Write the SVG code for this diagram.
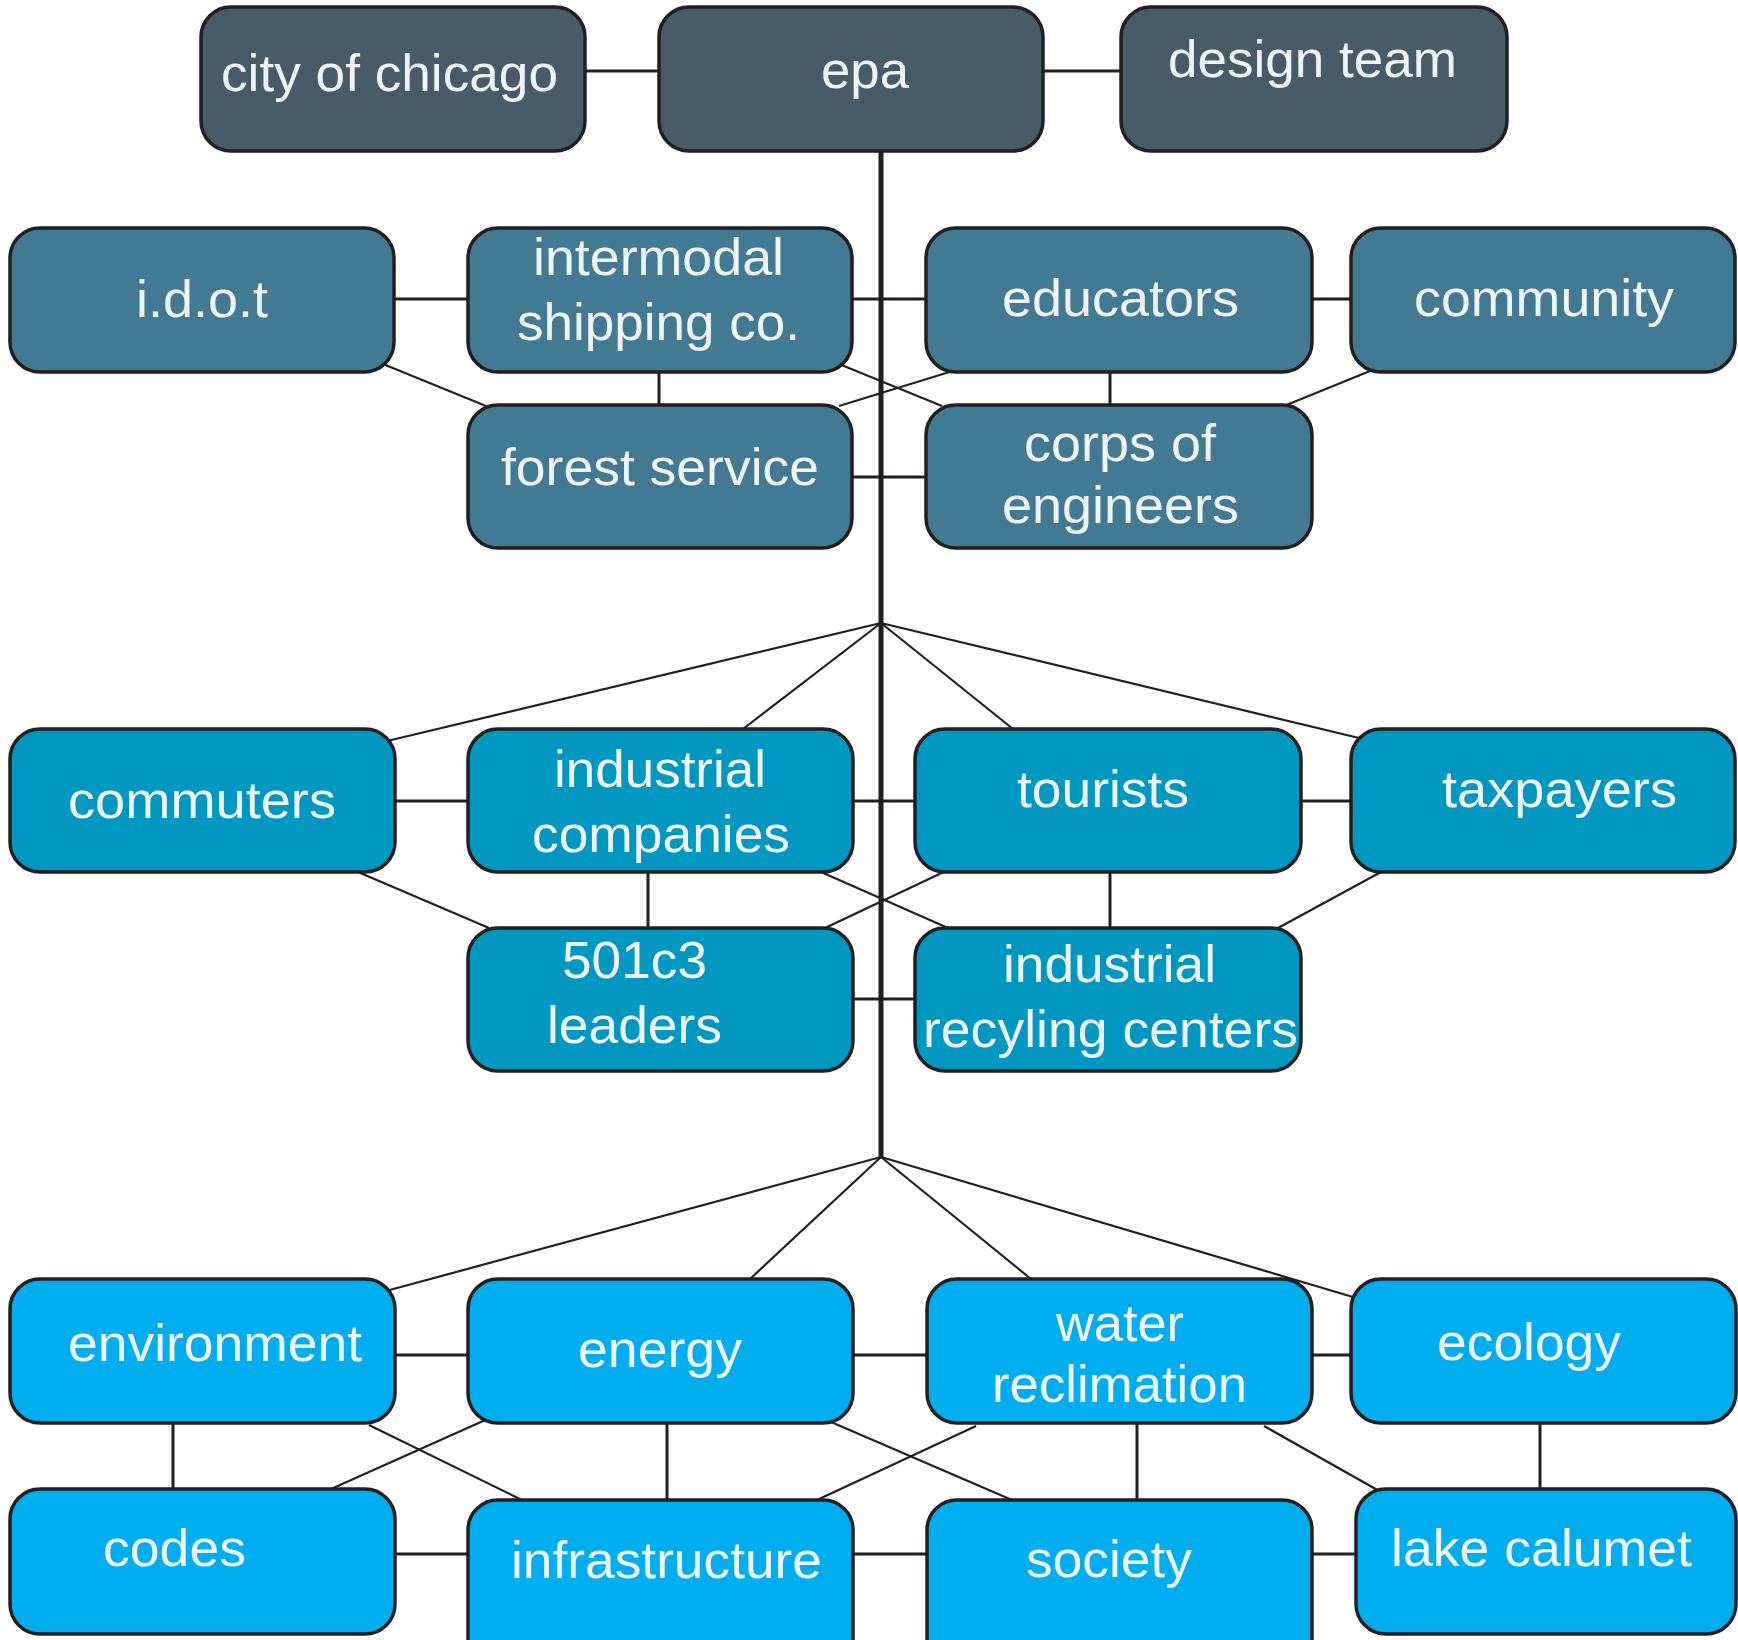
<svg xmlns="http://www.w3.org/2000/svg" width="1738" height="1640" viewBox="0 0 1738 1640">
<style>
.box{stroke:#231f20;stroke-width:3.5}
.c1{fill:#475b68}
.c2{fill:#417a92}
.c3{fill:#0098c1}
.c4{fill:#00aeef}
.lbl{font-family:"Liberation Sans",Arial,sans-serif;font-size:52px;fill:#eef4f7}
.ln{stroke:#231f20;stroke-width:3;fill:none}
.dg{stroke:#231f20;stroke-width:2.2;fill:none}
.sp{stroke:#231f20;stroke-width:5;fill:none}
</style>
<rect width="1738" height="1640" fill="#ffffff"/>
<g id="connectors">
<line class="sp" x1="881" y1="151" x2="881" y2="1157"/>
<line class="ln" x1="585" y1="71" x2="659" y2="71"/>
<line class="ln" x1="1043" y1="71" x2="1121" y2="71"/>
<line class="ln" x1="394" y1="299" x2="468" y2="299"/>
<line class="ln" x1="852" y1="299" x2="926" y2="299"/>
<line class="ln" x1="1312" y1="299" x2="1351" y2="299"/>
<line class="ln" x1="659" y1="372" x2="659" y2="405"/>
<line class="ln" x1="1110" y1="372" x2="1110" y2="405"/>
<line class="ln" x1="852" y1="477" x2="926" y2="477"/>
<line class="dg" x1="383" y1="364" x2="486" y2="406"/>
<line class="dg" x1="839" y1="364" x2="942" y2="406"/>
<line class="dg" x1="956" y1="370" x2="839" y2="406"/>
<line class="dg" x1="1370" y1="371" x2="1284" y2="406"/>
<line class="ln" x1="395" y1="801" x2="468" y2="801"/>
<line class="ln" x1="853" y1="801" x2="915" y2="801"/>
<line class="ln" x1="1301" y1="801" x2="1351" y2="801"/>
<line class="ln" x1="648" y1="872" x2="648" y2="928"/>
<line class="ln" x1="1110" y1="872" x2="1110" y2="928"/>
<line class="ln" x1="853" y1="999" x2="915" y2="999"/>
<line class="dg" x1="881" y1="623" x2="383" y2="742"/>
<line class="dg" x1="881" y1="623" x2="743" y2="729"/>
<line class="dg" x1="881" y1="623" x2="1013" y2="729"/>
<line class="dg" x1="881" y1="623" x2="1359" y2="738"/>
<line class="dg" x1="358" y1="872" x2="489" y2="928"/>
<line class="dg" x1="821" y1="872" x2="948" y2="928"/>
<line class="dg" x1="948" y1="870" x2="825" y2="928"/>
<line class="dg" x1="1381" y1="872" x2="1278" y2="928"/>
<line class="ln" x1="395" y1="1355" x2="468" y2="1355"/>
<line class="ln" x1="853" y1="1355" x2="927" y2="1355"/>
<line class="ln" x1="1312" y1="1355" x2="1351" y2="1355"/>
<line class="ln" x1="173" y1="1423" x2="173" y2="1489"/>
<line class="ln" x1="667" y1="1423" x2="667" y2="1500"/>
<line class="ln" x1="1137" y1="1423" x2="1137" y2="1500"/>
<line class="ln" x1="1540" y1="1423" x2="1540" y2="1489"/>
<line class="ln" x1="395" y1="1554" x2="468" y2="1554"/>
<line class="ln" x1="853" y1="1554" x2="927" y2="1554"/>
<line class="ln" x1="1312" y1="1554" x2="1356" y2="1554"/>
<line class="dg" x1="881" y1="1157" x2="386" y2="1291"/>
<line class="dg" x1="881" y1="1157" x2="750" y2="1279"/>
<line class="dg" x1="881" y1="1157" x2="1031" y2="1279"/>
<line class="dg" x1="881" y1="1157" x2="1353" y2="1297"/>
<line class="dg" x1="369" y1="1425" x2="522" y2="1500"/>
<line class="dg" x1="492" y1="1417" x2="331" y2="1489"/>
<line class="dg" x1="831" y1="1422" x2="1012" y2="1500"/>
<line class="dg" x1="976" y1="1426" x2="817" y2="1500"/>
<line class="dg" x1="1264" y1="1426" x2="1381" y2="1492"/>
</g>
<g id="n-city"><rect class="box c1" x="201" y="7" width="384" height="144" rx="30"/><text class="lbl" x="221" y="91" textLength="337" lengthAdjust="spacingAndGlyphs">city of chicago</text></g>
<g id="n-epa"><rect class="box c1" x="659" y="7" width="384" height="144" rx="30"/><text class="lbl" x="821" y="88" textLength="88" lengthAdjust="spacingAndGlyphs">epa</text></g>
<g id="n-design"><rect class="box c1" x="1121" y="7" width="386" height="144" rx="30"/><text class="lbl" x="1168" y="77" textLength="289" lengthAdjust="spacingAndGlyphs">design team</text></g>
<g id="n-idot"><rect class="box c2" x="10" y="228" width="384" height="144" rx="30"/><text class="lbl" x="136" y="317" textLength="132" lengthAdjust="spacingAndGlyphs">i.d.o.t</text></g>
<g id="n-intermodal"><rect class="box c2" x="468" y="228" width="384" height="144" rx="30"/><text class="lbl" x="533" y="275" textLength="251" lengthAdjust="spacingAndGlyphs">intermodal</text><text class="lbl" x="517" y="340" textLength="283" lengthAdjust="spacingAndGlyphs">shipping co.</text></g>
<g id="n-educators"><rect class="box c2" x="926" y="228" width="386" height="144" rx="30"/><text class="lbl" x="1002" y="316" textLength="237" lengthAdjust="spacingAndGlyphs">educators</text></g>
<g id="n-community"><rect class="box c2" x="1351" y="228" width="384" height="144" rx="30"/><text class="lbl" x="1414" y="316" textLength="260" lengthAdjust="spacingAndGlyphs">community</text></g>
<g id="n-forest"><rect class="box c2" x="468" y="405" width="384" height="143" rx="30"/><text class="lbl" x="501" y="485" textLength="318" lengthAdjust="spacingAndGlyphs">forest service</text></g>
<g id="n-corps"><rect class="box c2" x="926" y="405" width="386" height="143" rx="30"/><text class="lbl" x="1024" y="461" textLength="192" lengthAdjust="spacingAndGlyphs">corps of</text><text class="lbl" x="1002" y="523" textLength="237" lengthAdjust="spacingAndGlyphs">engineers</text></g>
<g id="n-commuters"><rect class="box c3" x="10" y="729" width="385" height="143" rx="30"/><text class="lbl" x="68" y="818" textLength="268" lengthAdjust="spacingAndGlyphs">commuters</text></g>
<g id="n-industrial"><rect class="box c3" x="468" y="729" width="385" height="143" rx="30"/><text class="lbl" x="554" y="787" textLength="212" lengthAdjust="spacingAndGlyphs">industrial</text><text class="lbl" x="532" y="852" textLength="258" lengthAdjust="spacingAndGlyphs">companies</text></g>
<g id="n-tourists"><rect class="box c3" x="915" y="729" width="386" height="143" rx="30"/><text class="lbl" x="1017" y="807" textLength="172" lengthAdjust="spacingAndGlyphs">tourists</text></g>
<g id="n-taxpayers"><rect class="box c3" x="1351" y="729" width="384" height="143" rx="30"/><text class="lbl" x="1442" y="807" textLength="235" lengthAdjust="spacingAndGlyphs">taxpayers</text></g>
<g id="n-501c3"><rect class="box c3" x="468" y="928" width="385" height="143" rx="30"/><text class="lbl" x="562" y="978" textLength="145" lengthAdjust="spacingAndGlyphs">501c3</text><text class="lbl" x="547" y="1043" textLength="175" lengthAdjust="spacingAndGlyphs">leaders</text></g>
<g id="n-recycling"><rect class="box c3" x="915" y="928" width="386" height="143" rx="30"/><text class="lbl" x="1003" y="982" textLength="213" lengthAdjust="spacingAndGlyphs">industrial</text><text class="lbl" x="923" y="1047" textLength="375" lengthAdjust="spacingAndGlyphs">recyling centers</text></g>
<g id="n-environment"><rect class="box c4" x="10" y="1279" width="385" height="144" rx="30"/><text class="lbl" x="68" y="1361" textLength="294" lengthAdjust="spacingAndGlyphs">environment</text></g>
<g id="n-energy"><rect class="box c4" x="468" y="1279" width="385" height="144" rx="30"/><text class="lbl" x="578" y="1367" textLength="164" lengthAdjust="spacingAndGlyphs">energy</text></g>
<g id="n-water"><rect class="box c4" x="927" y="1279" width="385" height="144" rx="30"/><text class="lbl" x="1056" y="1341" textLength="128" lengthAdjust="spacingAndGlyphs">water</text><text class="lbl" x="992" y="1402" textLength="255" lengthAdjust="spacingAndGlyphs">reclimation</text></g>
<g id="n-ecology"><rect class="box c4" x="1351" y="1279" width="385" height="144" rx="30"/><text class="lbl" x="1437" y="1360" textLength="184" lengthAdjust="spacingAndGlyphs">ecology</text></g>
<g id="n-codes"><rect class="box c4" x="10" y="1489" width="385" height="145" rx="30"/><text class="lbl" x="103" y="1566" textLength="143" lengthAdjust="spacingAndGlyphs">codes</text></g>
<g id="n-infrastructure"><rect class="box c4" x="468" y="1500" width="385" height="170" rx="30"/><text class="lbl" x="511" y="1578" textLength="311" lengthAdjust="spacingAndGlyphs">infrastructure</text></g>
<g id="n-society"><rect class="box c4" x="927" y="1500" width="385" height="170" rx="30"/><text class="lbl" x="1026" y="1577" textLength="166" lengthAdjust="spacingAndGlyphs">society</text></g>
<g id="n-lake"><rect class="box c4" x="1356" y="1489" width="380" height="145" rx="30"/><text class="lbl" x="1391" y="1566" textLength="301" lengthAdjust="spacingAndGlyphs">lake calumet</text></g>
</svg>
